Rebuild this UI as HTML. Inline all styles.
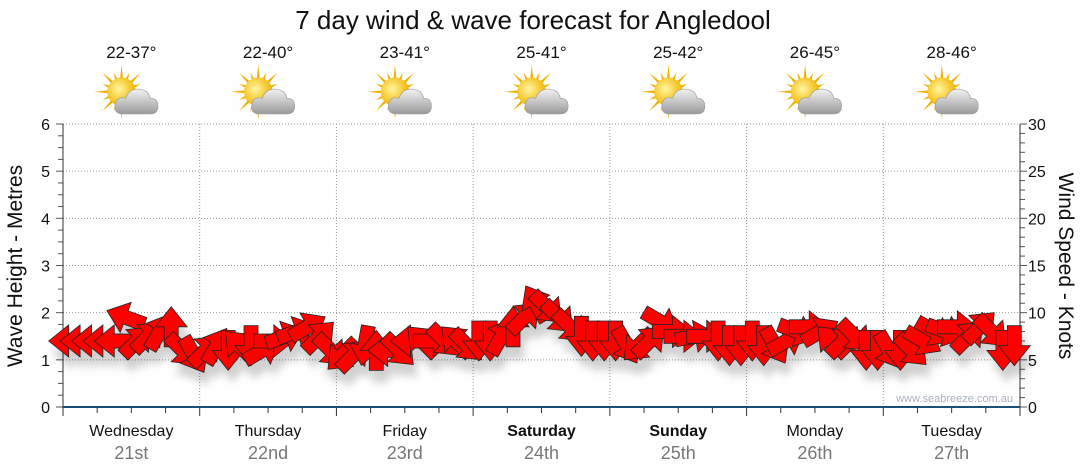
<!DOCTYPE html>
<html><head><meta charset="utf-8"><style>
body{margin:0;background:#fff;}
svg{display:block;font-family:"Liberation Sans",sans-serif;}
</style></head><body>
<svg id="chart" width="1080" height="475" viewBox="0 0 1080 475">
<defs>
<filter id="sh" x="-50%" y="-50%" width="200%" height="200%"><feDropShadow dx="4" dy="12" stdDeviation="4" flood-color="#000" flood-opacity="0.18"/></filter>
<radialGradient id="sun" cx="0.4" cy="0.4" r="0.6"><stop offset="0" stop-color="#fff6a0"/><stop offset="1" stop-color="#f2b400"/></radialGradient>
<linearGradient id="cloud" x1="0" y1="0" x2="0" y2="1"><stop offset="0" stop-color="#f2f2f2"/><stop offset="1" stop-color="#9a9a9a"/></linearGradient>
</defs>
<text x="533" y="29" font-size="26" text-anchor="middle" fill="#111">7 day wind &amp; wave forecast for Angledool</text>
<g id="grid"></g>
<g id="axes"></g>
<g id="icons"></g>
<g id="arrows" filter="url(#sh)"></g>
<text x="1013" y="402" font-size="11" text-anchor="end" fill="#a8b0c0">www.seabreeze.com.au</text>
<text transform="translate(22,266) rotate(-90)" font-size="21" text-anchor="middle" fill="#111">Wave Height - Metres</text>
<text transform="translate(1059,266) rotate(90)" font-size="21" text-anchor="middle" fill="#111">Wind Speed - Knots</text>
</svg>
<script>
const days=["Wednesday","Thursday","Friday","Saturday","Sunday","Monday","Tuesday"];
const dates=["21st","22nd","23rd","24th","25th","26th","27th"];
const boldDays=[false,false,false,true,true,false,false];
const temps=["22-37°","22-40°","23-41°","25-41°","25-42°","26-45°","28-46°"];
const waveTicks=[0,1,2,3,4,5,6];
const windTicks=[0,5,10,15,20,25,30];
const windSpeed=[7,7,7,7,7,9.5,7,7.5,8,8.5,6,5.5,
6,6.5,6,6.5,6.5,6,7,7.5,8,8.5,7.5,6,
5.5,5.5,6.5,6,6,6,7,7,7,7,7,6.5,
7,7,7.5,8.5,9.5,11,10.5,9.5,8.5,7.5,7,7,
7,6.5,6.5,7,9,8,7.5,7.5,7.5,7,6.5,6.5,
7,6.5,6.5,7,8,8.5,8,7,7,7.5,6,6,
6,6,6,7,8,8,8.5,7.5,8.5,8,6,6.5];
const windDir=[180,180,180,180,180,200,-45,-45,-60,-90,45,60,
-45,-60,90,-135,90,-30,0,-20,-20,-30,-45,45,
135,-45,100,-90,180,45,180,-135,0,45,-135,45,
90,90,-60,-90,-45,-120,45,45,45,90,90,90,
90,60,135,-45,30,0,0,-10,0,90,90,90,
90,90,60,-30,20,0,-30,-135,-45,45,90,90,
60,90,45,30,30,20,0,-45,-45,45,90,90];

const NS="http://www.w3.org/2000/svg";
const X0=63,X1=1020,Y0=407,Y1=124;
const dayW=(X1-X0)/7;
const xT=h=>X0+h/168*(X1-X0);
const yWave=m=>Y0-m/6*(Y0-Y1);
const yWind=k=>Y0-k/30*(Y0-Y1);
function mk(tag,attrs,parent){const e=document.createElementNS(NS,tag);for(const k in attrs)e.setAttribute(k,attrs[k]);parent.appendChild(e);return e;}
const grid=document.getElementById('grid'),axes=document.getElementById('axes'),icons=document.getElementById('icons'),arrows=document.getElementById('arrows');

waveTicks.forEach(m=>{
  if(m>0){const g=mk('line',{x1:X0,x2:X1,y1:yWave(m),y2:yWave(m),stroke:'#999','stroke-dasharray':'1,2'},grid);
  
  }
  const t=mk('text',{x:50,y:yWave(m)+6,'font-size':16,'text-anchor':'end',fill:'#111'},axes);t.textContent=m;
  
  
});
for(let q=0;q<=24;q++){const m=q*0.25;mk('line',{x1:X0-(q%4==0?7:5),x2:X0,y1:yWave(m),y2:yWave(m),stroke:'#555'},axes);}
windTicks.forEach(k=>{
  const t=mk('text',{x:1028,y:yWind(k)+6,'font-size':16,fill:'#111'},axes);t.textContent=k;
  
  
});
for(let k=0;k<=30;k++)mk('line',{x1:X1,x2:X1+(k%5==0?7:5),y1:yWind(k),y2:yWind(k),stroke:'#555'},axes);
mk('line',{x1:X0,x2:X0,y1:Y1,y2:Y0,stroke:'#333'},axes);
mk('line',{x1:X1,x2:X1,y1:Y1,y2:Y0,stroke:'#333'},axes);
for(let d=1;d<7;d++){const g=mk('line',{x1:X0+d*dayW,x2:X0+d*dayW,y1:Y1,y2:Y0,stroke:'#999','stroke-dasharray':'1,2'},grid);
  
  }
for(let h=0;h<=168;h+=6)mk('line',{x1:xT(h),x2:xT(h),y1:Y0,y2:Y0+(h%24==0?9:6),stroke:'#333'},axes);
mk('line',{x1:X0,x2:X1,y1:Y0,y2:Y0,stroke:'#1a4f7a','stroke-width':2},axes);

days.forEach((d,i)=>{
  const cx=X0+(i+0.5)*dayW;
  const a=mk('text',{x:cx,y:436,'font-size':16,'text-anchor':'middle',fill:'#111','font-weight':boldDays[i]?'bold':'normal'},axes);a.textContent=d;
  
  
  const b=mk('text',{x:cx,y:459,'font-size':18,'text-anchor':'middle',fill:'#777'},axes);b.textContent=dates[i];
  
  
  const t=mk('text',{x:cx,y:58,'font-size':17,'text-anchor':'middle',fill:'#111'},icons);t.textContent=temps[i];
  
  
  const g=mk('g',{transform:`translate(${cx-2},97) scale(1.3)`},icons);
  
  
  for(let r=0;r<16;r++){const ang=r*22.5*Math.PI/180,L=r%2?16:21;
    mk('path',{d:`M${-6+Math.cos(ang+0.14)*9} ${-4+Math.sin(ang+0.14)*9} L${-6+Math.cos(ang)*L} ${-4+Math.sin(ang)*L} L${-6+Math.cos(ang-0.14)*9} ${-4+Math.sin(ang-0.14)*9}Z`,fill:'#f0b000'},g);}
  mk('circle',{cx:-6,cy:-4,r:11,fill:'url(#sun)'},g);
  mk('path',{d:'M-5 13 Q-12 13 -11 6 Q-10 -1 -3 1 Q0 -7 8 -6 Q15 -5 16 1 Q22 1 22 7 Q22 13 16 13Z',fill:'url(#cloud)',stroke:'#999','stroke-width':0.5},g);
});

const n=windSpeed.length;
windSpeed.forEach((k,i)=>{
  const x=xT((i+0.5)*168/n),y=yWind(k);
  const p=mk('path',{d:'M-20 -7 L0 -7 L0 -16 L20 0 L0 16 L0 7 L-20 7Z',fill:'#ff0000',stroke:'#222','stroke-width':0.8,transform:`translate(${x.toFixed(1)},${y.toFixed(1)}) rotate(${windDir[i]})`},arrows);
  
  
});
</script>
</body></html>
